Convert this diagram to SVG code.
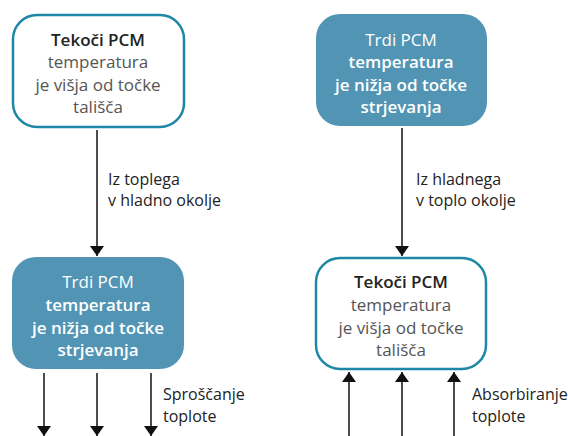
<svg xmlns="http://www.w3.org/2000/svg" width="568" height="436" viewBox="0 0 568 436">
<defs>
<marker id="ah" viewBox="0 0 10 14" refX="10" refY="7" markerWidth="10" markerHeight="14" markerUnits="userSpaceOnUse" orient="auto">
<path d="M0,0 L10,7 L0,14 Z" fill="#111"/>
</marker>
</defs>
<style>
.out{fill:#fff;stroke:#1f87a6;stroke-width:2.5}
.fil{fill:#5194b4;stroke:none}
text{font-family:"Open Sans","Liberation Sans",sans-serif;font-size:17px;text-anchor:middle}
.h{fill:#222;font-weight:600}
.g{fill:#555}
.w{fill:#fff;font-weight:600}
.wl{fill:#fff}
.lab{fill:#222;text-anchor:start;font-size:16px}
.ln{stroke:#111;stroke-width:1.5;fill:none;marker-end:url(#ah)}
</style>
<g id="n1">
<rect class="out" x="13" y="15" width="171" height="112" rx="24"/>
<text class="h" x="98" y="46">Tekoči PCM</text>
<text class="g" x="98" y="68">temperatura</text>
<text class="g" x="98" y="91">je višja od točke</text>
<text class="g" x="98" y="113">tališča</text>
</g>
<g id="n2">
<rect class="fil" x="316" y="14" width="171" height="112" rx="24"/>
<text class="wl" x="401" y="46">Trdi PCM</text>
<text class="w" x="401" y="68">temperatura</text>
<text class="w" x="401" y="91">je nižja od točke</text>
<text class="w" x="401" y="113">strjevanja</text>
</g>
<g id="n3">
<rect class="fil" x="12" y="257" width="172" height="112" rx="24"/>
<text class="wl" x="98" y="288">Trdi PCM</text>
<text class="w" x="98" y="311">temperatura</text>
<text class="w" x="98" y="334">je nižja od točke</text>
<text class="w" x="98" y="356">strjevanja</text>
</g>
<g id="n4">
<rect class="out" x="316" y="258" width="170" height="111" rx="24"/>
<text class="h" x="401" y="288">Tekoči PCM</text>
<text class="g" x="401" y="311">temperatura</text>
<text class="g" x="401" y="334">je višja od točke</text>
<text class="g" x="401" y="356">tališča</text>
</g>
<g id="connectors">
<path class="ln" d="M97,130 V256"/>
<path class="ln" d="M402,128 V256"/>
<path class="ln" d="M44,373 V436"/>
<path class="ln" d="M97,373 V436"/>
<path class="ln" d="M151,373 V436"/>
<path class="ln" d="M349,436 V372"/>
<path class="ln" d="M402,436 V372"/>
<path class="ln" d="M454,436 V372"/>
</g>
<g id="labels">
<text class="lab" x="108" y="185">Iz toplega</text>
<text class="lab" x="108" y="206">v hladno okolje</text>
<text class="lab" x="416" y="185">Iz hladnega</text>
<text class="lab" x="416" y="206">v toplo okolje</text>
<text class="lab" x="163" y="400">Sproščanje</text>
<text class="lab" x="163" y="422">toplote</text>
<text class="lab" x="472" y="400">Absorbiranje</text>
<text class="lab" x="472" y="422">toplote</text>
</g>
</svg>
